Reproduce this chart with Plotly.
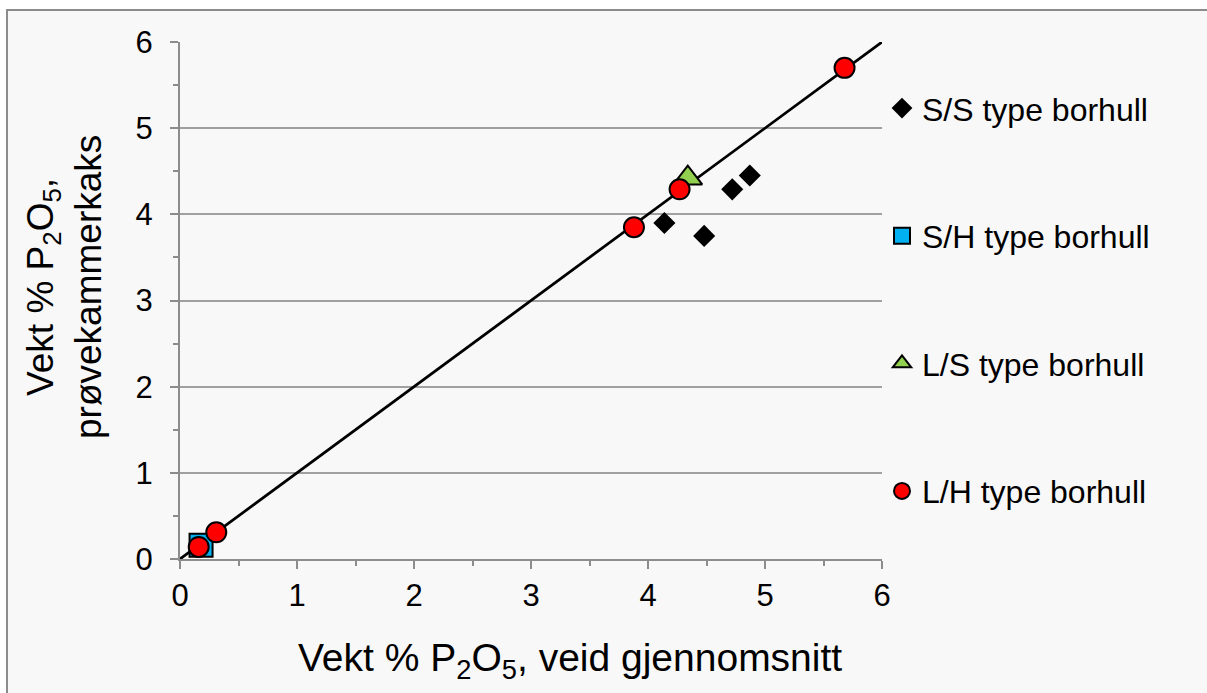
import plotly.graph_objects as go

# Data
ss_x = [4.14, 4.48, 4.72, 4.87]
ss_y = [3.90, 3.75, 4.29, 4.45]
sh_x = [0.18]
sh_y = [0.16]
ls_x = [4.34]
ls_y = [4.42]
lh_x = [0.16, 0.31, 3.88, 4.27, 5.68]
lh_y = [0.14, 0.31, 3.85, 4.29, 5.70]
line_x = [0, 6]
line_y = [0, 6]

x_title = "Vekt % P<sub>2</sub>O<sub>5</sub>, veid gjennomsnitt"
y_title = "Vekt % P<sub>2</sub>O<sub>5</sub>,<br>prøvekammerkaks"

FONT = "Liberation Sans"
GRAY = "#8c8c8c"

fig = go.Figure()
fig.add_trace(go.Scatter(x=line_x, y=line_y, mode="lines",
                         line=dict(color="black", width=2.75),
                         showlegend=False, hoverinfo="skip", cliponaxis=False))
fig.add_trace(go.Scatter(x=ss_x, y=ss_y, mode="markers", name="S/S type borhull",
                         legendgroup="a",
                         marker=dict(symbol="diamond", size=17, color="black",
                                     line=dict(color="black", width=0)), cliponaxis=False))
fig.add_trace(go.Scatter(x=sh_x, y=sh_y, mode="markers", name="S/H type borhull",
                         legendgroup="b",
                         marker=dict(symbol="square", size=23, color="#00B0F0",
                                     line=dict(color="black", width=2)), cliponaxis=False))
fig.add_trace(go.Scatter(x=ls_x, y=ls_y, mode="markers", name="L/S type borhull",
                         legendgroup="c",
                         marker=dict(symbol="triangle-up", size=25, color="#92D050",
                                     line=dict(color="black", width=2)), cliponaxis=False))
fig.add_trace(go.Scatter(x=lh_x, y=lh_y, mode="markers", name="L/H type borhull",
                         legendgroup="d",
                         marker=dict(symbol="circle", size=20, color="#FF0000",
                                     line=dict(color="black", width=2)), cliponaxis=False))

axis_common = dict(range=[0, 6], dtick=1, showline=True, linecolor=GRAY, linewidth=2,
                   ticks="outside", ticklen=8, tickwidth=2, tickcolor=GRAY,
                   tickfont=dict(size=31, color="black", family=FONT),
                   minor=dict(ticks="outside", ticklen=5, tickwidth=2, tickcolor=GRAY, dtick=0.5,
                              showgrid=False),
                   zeroline=False, fixedrange=True)

fig.update_layout(
    width=1207, height=693,
    margin=dict(l=180, r=325, t=42, b=134),
    paper_bgcolor="white",
    plot_bgcolor="#FFFFCC",
    font=dict(family=FONT, color="black"),
    xaxis=dict(**axis_common, showgrid=False),
    yaxis=dict(**axis_common, showgrid=True, gridcolor="#a0a0a0", gridwidth=1.5,
               ticklabelstandoff=11),
    legend=dict(x=1.0, y=0.925, xanchor="left", yanchor="top",
                font=dict(size=32, family=FONT), bgcolor="rgba(0,0,0,0)",
                tracegroupgap=83, itemwidth=30),
    annotations=[
        dict(text=x_title, xref="paper", yref="paper", x=(570 - 180) / 702,
             y=(559 - 660) / 517, xanchor="center", yanchor="middle", showarrow=False,
             font=dict(size=39, family=FONT, color="black")),
        dict(text=y_title, xref="paper", yref="paper", x=(64 - 180) / 702,
             y=(559 - 287) / 517, xanchor="center", yanchor="middle", showarrow=False,
             textangle=-90, font=dict(size=37, family=FONT, color="black")),
    ],
    shapes=[dict(type="rect", xref="paper", yref="paper",
                 x0=(7 - 180) / 702, x1=1.6, y0=-0.5, y1=(559 - 10) / 517,
                 fillcolor="#F8F8F8", line=dict(color=GRAY, width=2), layer="below")],
)

fig.write_html("out.html", config={"displayModeBar": False},
               post_script="document.body.style.margin='0';")
